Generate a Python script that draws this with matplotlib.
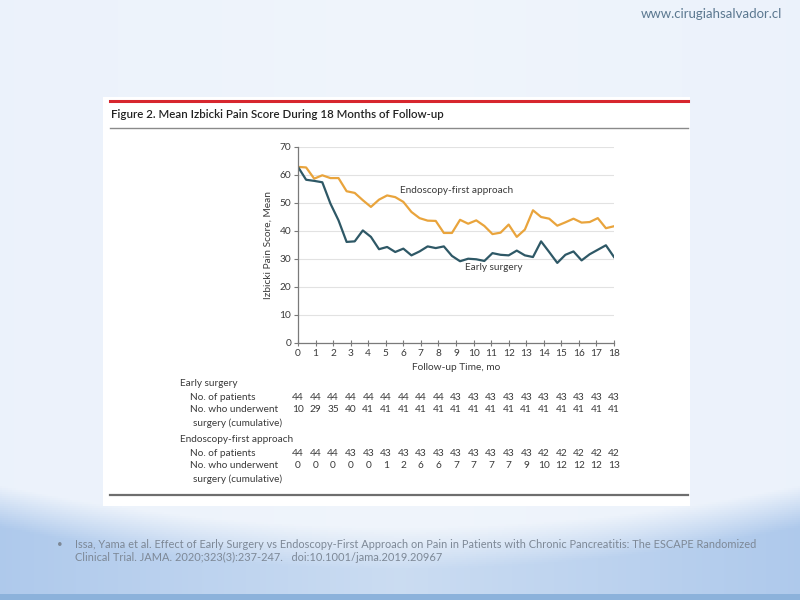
import numpy as np
import matplotlib.pyplot as plt
from matplotlib.patches import Rectangle
from matplotlib.lines import Line2D

plt.rcParams['font.family'] = ['Lato', 'DejaVu Sans']

# follow-up visits every 2 weeks, in weeks
weeks = list(range(0, 80, 2))
endoscopy = [62.9, 62.7, 58.7, 59.9, 58.9, 58.9, 54.2, 53.6, 51.0, 48.6,
             51.2, 52.7, 52.1, 50.4, 46.8, 44.6, 43.7, 43.6, 39.3, 39.3,
             44.0, 42.6, 43.8, 41.8, 38.9, 39.4, 42.3, 37.9, 40.5, 47.4,
             45.0, 44.4, 41.9, 43.1, 44.4, 43.0, 43.2, 44.6, 41.0, 41.7]
early = [62.9, 58.3, 57.9, 57.4, 49.8, 43.8, 36.1, 36.3, 40.2, 37.9,
         33.5, 34.3, 32.5, 33.7, 31.3, 32.7, 34.5, 33.9, 34.5, 31.1,
         29.2, 30.1, 29.9, 29.3, 32.1, 31.5, 31.3, 33.0, 31.3, 30.7,
         36.3, 32.5, 28.6, 31.5, 32.7, 29.5, 31.7, 33.3, 34.9, 30.7]

months = list(range(0, 19))
early_patients = [44] * 9 + [43] * 10
early_surgery = [10, 29, 35, 40] + [41] * 15
endo_patients = [44, 44, 44] + [43] * 11 + [42] * 5
endo_surgery = [0, 0, 0, 0, 0, 1, 2, 6, 6, 7, 7, 7, 7, 9, 10, 12, 12, 12, 13]

orange = '#E9A43C'
teal = '#2E5866'
txt = '#3a3a3a'

W, H = 800, 600
fig = plt.figure(figsize=(8, 6), dpi=100)


def fx(px):
    return px / W


def fy(py):
    return 1 - py / H


# slide background: pale top, curved blue band at the bottom
bg = fig.add_axes([0, 0, 1, 1], zorder=-10)
yy = np.linspace(0, 1, 300)[:, None] * np.ones((1, 400))
xx = np.linspace(0, 1, 400)[None, :] * np.ones((300, 1))
edge = 0.81 + 0.07 * (1 - (2 * xx - 1) ** 2)
band = np.clip((yy - edge) / 0.07, 0, 1) * (0.6 + 0.4 * np.abs(2 * xx - 1))
r = 0.94 - 0.24 * band - 0.03 * np.abs(xx - 0.5)
g = 0.96 - 0.16 * band - 0.02 * np.abs(xx - 0.5)
b = 0.985 - 0.06 * band
strip = yy > 0.993
r[strip], g[strip], b[strip] = 0.55, 0.70, 0.86
bg.imshow(np.dstack([r, g, b]), aspect='auto', extent=[0, 1, 1, 0])
bg.set_xlim(0, 1)
bg.set_ylim(1, 0)
bg.axis('off')

# white figure panel
fig.patches.append(Rectangle((fx(103), fy(506)), fx(690) - fx(103), fy(97) - fy(506),
                             transform=fig.transFigure, facecolor='white',
                             edgecolor='none', zorder=-5))
fig.lines.append(Line2D([fx(110), fx(688)], [fy(101), fy(101)], transform=fig.transFigure,
                        color='#D7262E', lw=2.2))
fig.lines.append(Line2D([fx(110), fx(688)], [fy(128), fy(128)], transform=fig.transFigure,
                        color='#8a8a8a', lw=1.0))
fig.lines.append(Line2D([fx(110), fx(688)], [fy(495), fy(495)], transform=fig.transFigure,
                        color='#6e6e6e', lw=1.6))

fig.text(fx(111), fy(115), 'Figure 2. Mean Izbicki Pain Score During 18 Months of Follow-up',
         fontsize=8.3, fontweight='semibold', color='#222222', va='center', ha='left')

# main chart
ax = fig.add_axes([fx(298), fy(343), fx(614) - fx(298), fy(147) - fy(343)])
x = np.array(weeks) * 12 / 52
ax.plot(x, endoscopy, color=orange, lw=1.6)
ax.plot(x, early, color=teal, lw=1.6)
ax.set_xlim(0, 18)
ax.set_ylim(0, 70)
ax.set_xticks(months)
ax.set_yticks(range(0, 80, 10))
ax.grid(axis='y', color='#e2e2e2', lw=0.8)
ax.set_axisbelow(True)
for s in ['top', 'right']:
    ax.spines[s].set_visible(False)
for s in ['left', 'bottom']:
    ax.spines[s].set_color('#7a7a7a')
    ax.spines[s].set_linewidth(0.9)
ax.tick_params(axis='both', labelsize=7.3, colors='#7a7a7a', labelcolor=txt, length=3, width=0.8, pad=2)
ax.tick_params(axis='x', direction='inout', length=4)
ax.set_ylabel('Izbicki Pain Score, Mean', fontsize=7.3, color=txt, labelpad=5)
ax.set_xlabel('Follow-up Time, mo', fontsize=7.3, color=txt, labelpad=4)
ax.text(5.8, 54.5, 'Endoscopy-first approach', fontsize=7.2, color=txt, va='center')
ax.text(9.5, 26.8, 'Early surgery', fontsize=7.2, color=txt, va='center')

# numbers at risk table
tab = fig.add_axes([fx(298), fy(485), fx(614) - fx(298), fy(375) - fy(485)])
tab.set_xlim(0, 18)
tab.set_ylim(485, 375)
tab.axis('off')
rows = [(397, early_patients), (410, early_surgery),
        (453, endo_patients), (466, endo_surgery)]
for ypos, vals in rows:
    for m, v in zip(months, vals):
        tab.text(m, ypos, str(v), fontsize=7.3, color=txt, ha='center', va='center')

labels = [(180, 383, 'Early surgery'), (190, 397, 'No. of patients'),
          (190, 410, 'No. who underwent'), (193, 423, 'surgery (cumulative)'),
          (180, 439, 'Endoscopy-first approach'), (190, 453, 'No. of patients'),
          (190, 466, 'No. who underwent'), (193, 479, 'surgery (cumulative)')]
for px, py, t in labels:
    fig.text(fx(px), fy(py), t, fontsize=7.2, color=txt, va='center', ha='left')

# slide texts
fig.text(fx(782), fy(14), 'www.cirugiahsalvador.cl', fontsize=9.5, color='#5b7890',
         ha='right', va='center')
foot = '#7d8896'
fig.text(fx(57), fy(545), '\u2022', fontsize=7, color=foot, va='center')
fig.text(fx(75), fy(545), 'Issa, Yama et al. Effect of Early Surgery vs Endoscopy-First Approach on Pain in '
         'Patients with Chronic Pancreatitis: The ESCAPE Randomized', fontsize=7.95, color=foot,
         va='center')
fig.text(fx(75), fy(557), 'Clinical Trial. JAMA. 2020;323(3):237-247.   doi:10.1001/jama.2019.20967',
         fontsize=7.95, color=foot, va='center')

fig.savefig('out.png', dpi=100)
